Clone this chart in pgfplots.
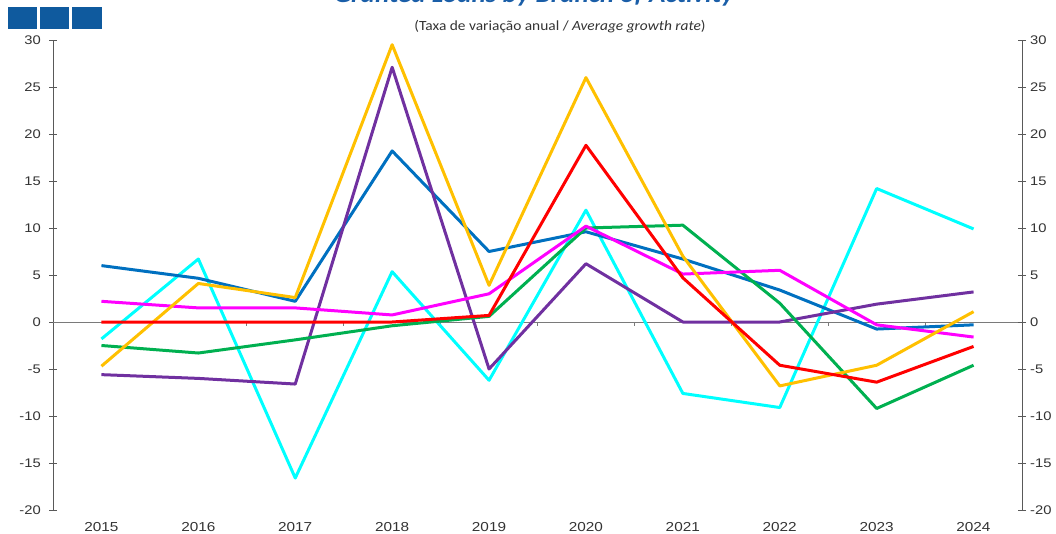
\documentclass[border=0pt]{standalone}
\usepackage{pgfplots}
\pgfplotsset{compat=1.18}
\usepackage{fontspec}
\setmainfont{Liberation Sans}
\newfontfamily\tickfont[FakeStretch=1.18]{Liberation Sans}
\newfontfamily\subfont[FakeStretch=1.1]{Carlito}
\newfontfamily\titlefont[FakeStretch=1.15]{Carlito}
\definecolor{cBlue}{HTML}{0070C0}
\definecolor{cYellow}{HTML}{FFC000}
\definecolor{cPurple}{HTML}{7030A0}
\definecolor{cCyan}{HTML}{00FFFF}
\definecolor{cGreen}{HTML}{00B050}
\definecolor{cRed}{HTML}{FF0000}
\definecolor{cMag}{HTML}{FF00FF}
\definecolor{cTitle}{HTML}{1A5EA8}
\definecolor{cSq}{HTML}{0F5A9E}
\definecolor{cAxis}{HTML}{595959}
\definecolor{cTxt}{HTML}{333333}
\begin{document}
\begin{tikzpicture}
\path[use as bounding box] (0pt,0pt) rectangle (1056pt,533pt);
% header squares
\fill[cSq] (8pt,504pt) rectangle (37pt,526pt);
\fill[cSq] (40pt,504pt) rectangle (69pt,526pt);
\fill[cSq] (72pt,504pt) rectangle (102pt,526pt);
\node[anchor=base,inner sep=0pt,text=cTitle] at (534pt,530.5pt) {\titlefont\bfseries\itshape\fontsize{23.5}{26}\selectfont Granted Loans by Branch of Activity};
\node[anchor=base,inner sep=0pt,text=cTxt] at (560pt,502pt) {\subfont\fontsize{14}{16}\selectfont (Taxa de variação anual / \textit{Average growth rate})};
\begin{axis}[
  at={(53pt,23pt)}, anchor=south west,
  scale only axis, width=969pt, height=470pt,
  xmin=2014.5, xmax=2024.5, ymin=-20, ymax=30,
  axis y line*=left, axis x line*=bottom,
  x axis line style={draw=none},
  y axis line style={draw=cAxis, line width=0.8pt},
  xtick={2015,...,2024},
  xticklabels={2015,2016,2017,2018,2019,2020,2021,2022,2023,2024},
  x tick style={draw=none},
  ytick={-20,-15,...,30},
  y tick style={draw=cAxis, line width=0.8pt},
  tick align=center, major tick length=8pt,
  /pgf/number format/assume math mode=true,
  ticklabel style={font=\tickfont\fontsize{12.5}{14}\selectfont, text=cTxt},
  xticklabel style={font=\tickfont\fontsize{13}{15}\selectfont, inner sep=0pt, anchor=north, yshift=-8pt},
  yticklabel style={inner sep=0pt, xshift=-8pt},
  clip=false,
  line join=round,
]
\draw[cAxis!80, line width=0.8pt] (axis cs:2014.5,0) -- (axis cs:2024.5,0);
\pgfplotsinvokeforeach{2015.5,2016.5,2017.5,2018.5,2019.5,2020.5,2021.5,2022.5,2023.5}{
  \draw[cAxis!80, line width=0.8pt] (axis cs:#1,0) -- ([yshift=-4pt]axis cs:#1,0);
}
\addplot[cCyan, line width=3pt] coordinates {(2015,-1.8)(2016,6.7)(2017,-16.6)(2018,5.35)(2019,-6.2)(2020,11.9)(2021,-7.6)(2022,-9.1)(2023,14.2)(2024,9.9)};
\addplot[cBlue, line width=3pt] coordinates {(2015,6.0)(2016,4.65)(2017,2.2)(2018,18.2)(2019,7.5)(2020,9.6)(2021,6.7)(2022,3.4)(2023,-0.75)(2024,-0.3)};
\addplot[cPurple, line width=3pt] coordinates {(2015,-5.6)(2016,-6.0)(2017,-6.6)(2018,27.1)(2019,-5.0)(2020,6.2)(2021,0)(2022,0)(2023,1.9)(2024,3.2)};
\addplot[cGreen, line width=3pt] coordinates {(2015,-2.5)(2016,-3.3)(2017,-1.9)(2018,-0.4)(2019,0.6)(2020,10.0)(2021,10.3)(2022,2.0)(2023,-9.2)(2024,-4.6)};
\addplot[cMag, line width=3pt] coordinates {(2015,2.2)(2016,1.5)(2017,1.5)(2018,0.75)(2019,3.0)(2020,10.2)(2021,5.1)(2022,5.5)(2023,-0.3)(2024,-1.6)};
\addplot[cYellow, line width=3pt] coordinates {(2015,-4.7)(2016,4.1)(2017,2.6)(2018,29.5)(2019,3.9)(2020,26.0)(2021,7.0)(2022,-6.8)(2023,-4.6)(2024,1.1)};
\addplot[cRed, line width=3pt] coordinates {(2015,0)(2016,0)(2017,0)(2018,0)(2019,0.7)(2020,18.8)(2021,4.7)(2022,-4.6)(2023,-6.4)(2024,-2.6)};
\end{axis}
\begin{axis}[
  at={(53pt,23pt)}, anchor=south west,
  scale only axis, width=969pt, height=470pt,
  xmin=2014.5, xmax=2024.5, ymin=-20, ymax=30,
  axis y line*=right, axis x line=none,
  y axis line style={draw=cAxis, line width=0.8pt},
  ytick={-20,-15,...,30},
  y tick style={draw=cAxis, line width=0.8pt},
  tick align=center, major tick length=8pt,
  /pgf/number format/assume math mode=true,
  yticklabel style={font=\tickfont\fontsize{12.5}{14}\selectfont, text=cTxt, inner sep=0pt, anchor=west, xshift=4pt},
]
\end{axis}
\end{tikzpicture}
\end{document}
